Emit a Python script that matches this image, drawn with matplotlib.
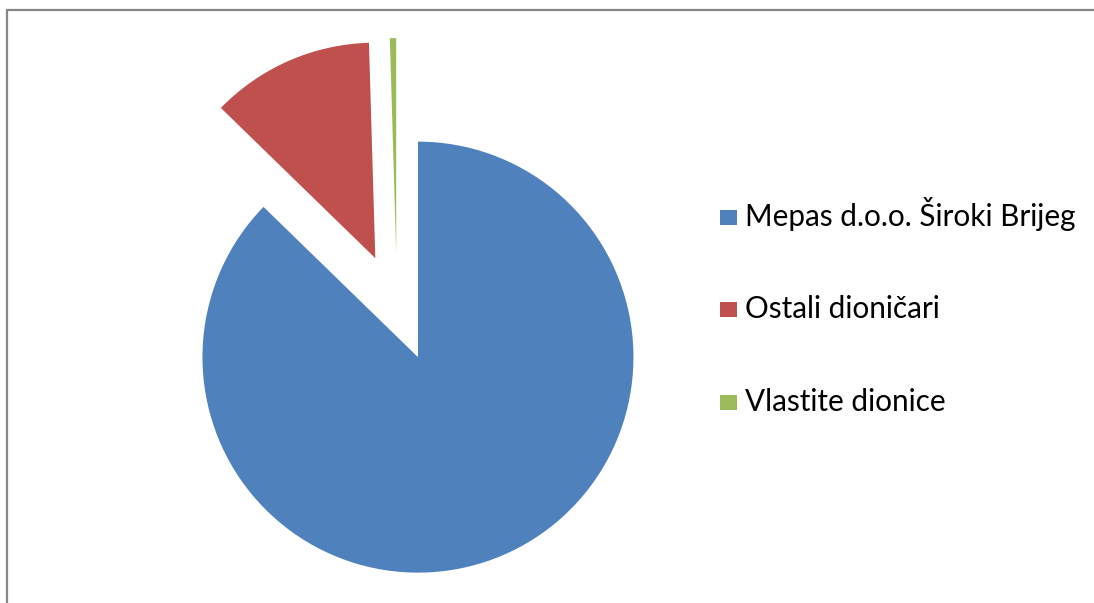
import matplotlib
matplotlib.use('Agg')
import matplotlib.pyplot as plt
from matplotlib.patches import Rectangle

labels = ['Mepas d.o.o. Široki Brijeg', 'Ostali dioničari', 'Vlastite dionice']
shares = [87.28, 12.25, 0.47]
colors = ['#4F81BD', '#C0504D', '#9BBB59']

W, H = 1094, 603
fig = plt.figure(figsize=(W / 100, H / 100), dpi=100)
ax = fig.add_axes([0, 0, 1, 1])
ax.set_xlim(0, W)
ax.set_ylim(0, H)
ax.set_aspect('equal')
ax.axis('off')

# pie in pixel units, every slice pulled out by a quarter of the radius
r = 215.5
ax.pie(shares, colors=colors, startangle=90, counterclock=False,
       radius=r, center=(397, H - 307.5), explode=[r * 0.25] * 3,
       wedgeprops=dict(linewidth=0), frame=True)
ax.set_xlim(0, W)
ax.set_ylim(0, H)
ax.axis('off')

# chart border
ax.plot([6.5, 6.5, W + 5], [-5, H - 9.5, H - 9.5], color='#868686', lw=1.6,
        solid_joinstyle='miter', clip_on=False)

# legend
for i, (lab, col) in enumerate(zip(labels, colors)):
    base = H - (225.7 + i * 92.5)
    ax.add_patch(Rectangle((720, base + 1), 17, 15, color=col, lw=0))
    ax.text(745, base, lab, fontsize=21.4, family='Lato', color='black',
            va='baseline', ha='left')

fig.savefig('out.png', dpi=100)
